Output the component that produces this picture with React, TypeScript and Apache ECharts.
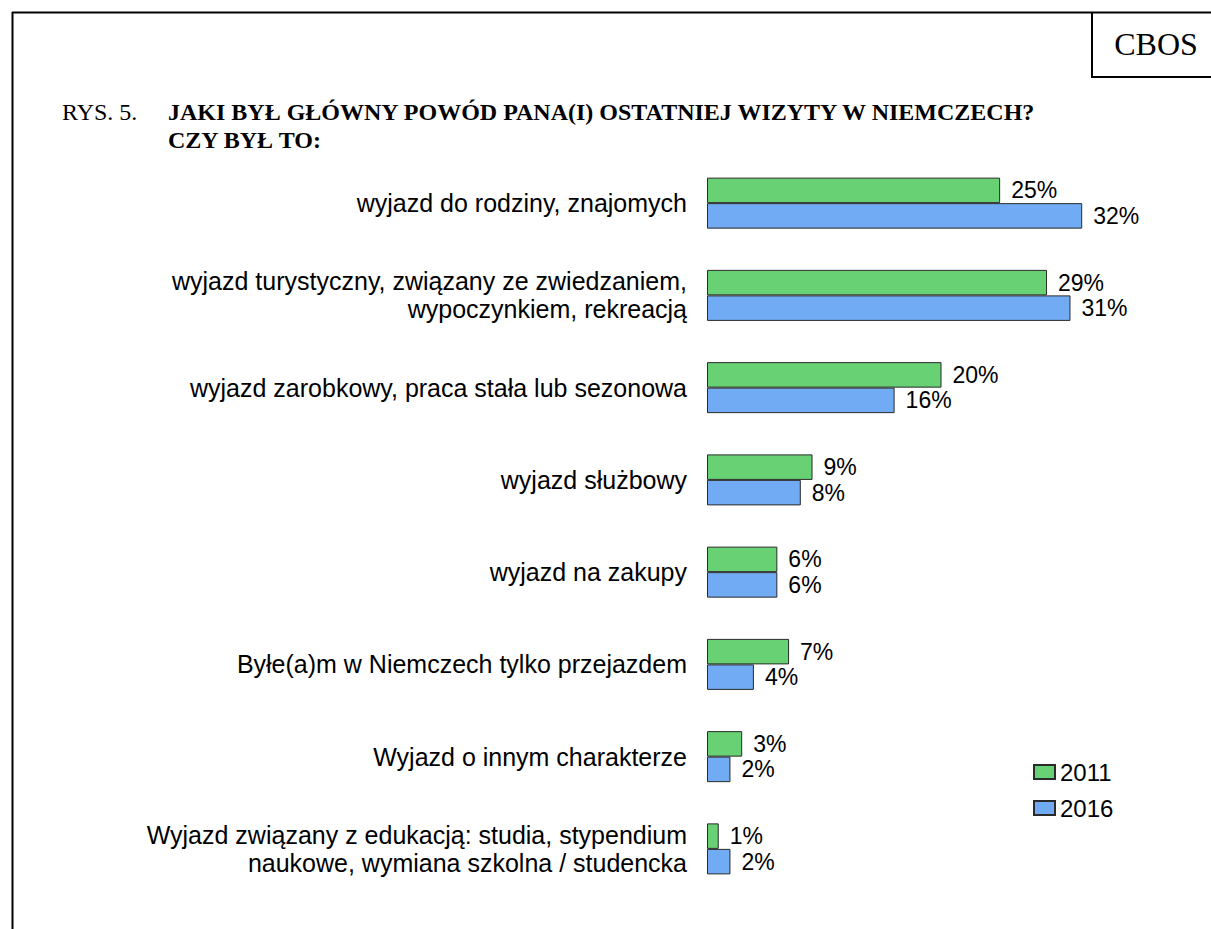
import React, { useEffect, useRef } from "react";
import * as echarts from "echarts";

const categories = [
  "wyjazd do rodziny, znajomych",
  "wyjazd turystyczny, związany ze zwiedzaniem,\nwypoczynkiem, rekreacją",
  "wyjazd zarobkowy, praca stała lub sezonowa",
  "wyjazd służbowy",
  "wyjazd na zakupy",
  "Byłe(a)m w Niemczech tylko przejazdem",
  "Wyjazd o innym charakterze",
  "Wyjazd związany z edukacją: studia, stypendium\nnaukowe, wymiana szkolna / studencka",
];
const values2011 = [25, 29, 20, 9, 6, 7, 3, 1];
const values2016 = [32, 31, 16, 8, 6, 4, 2, 2];
const seriesNames = ["2011", "2016"];

const GREEN = "#67d174";
const BLUE = "#71abf3";
const SANS = "'Liberation Sans', Arial, sans-serif";
const SERIF = "'Liberation Serif', 'Times New Roman', serif";

export default function App() {
  const ref = useRef<HTMLDivElement>(null);
  useEffect(() => {
    if (!ref.current) return;
    const chart = echarts.init(ref.current, undefined, { renderer: "svg" });
    const labelStyle = {
      show: true,
      position: "right",
      distance: 11,
      formatter: "{c}%",
      fontFamily: SANS,
      fontSize: 23,
      color: "#000",
    };
    chart.setOption({
      animation: false,
      backgroundColor: "#fff",
      textStyle: { fontFamily: SANS },
      grid: { left: 707, top: 157, width: 469, height: 738, containLabel: false },
      xAxis: {
        type: "value",
        min: 0,
        max: 40,
        show: false,
      },
      yAxis: {
        type: "category",
        data: categories,
        inverse: true,
        axisLine: { show: false },
        axisTick: { show: false },
        axisLabel: {
          fontFamily: SANS,
          fontSize: 25,
          color: "#000",
          margin: 20,
          lineHeight: 28,
          align: "right",
        },
      },
      legend: {
        orient: "vertical",
        left: 1033,
        top: 760,
        padding: 0,
        itemWidth: 21,
        itemHeight: 14,
        itemGap: 12,
        icon: "rect",
        textStyle: { fontFamily: SANS, fontSize: 24, color: "#000" },
        data: seriesNames,
      },
      series: [
        {
          name: seriesNames[0],
          type: "bar",
          data: values2011,
          barWidth: 25.5,
          barGap: "0%",
          itemStyle: { color: GREEN, borderColor: "#2a2a2a", borderWidth: 1 },
          label: labelStyle,
        },
        {
          name: seriesNames[1],
          type: "bar",
          data: values2016,
          barWidth: 25.5,
          barGap: "0%",
          itemStyle: { color: BLUE, borderColor: "#2a2a2a", borderWidth: 1 },
          label: labelStyle,
        },
      ],
      graphic: [
        { type: "line", shape: { x1: 12, y1: 12.5, x2: 1211, y2: 12.5 }, style: { stroke: "#000", lineWidth: 2 } },
        { type: "line", shape: { x1: 12.5, y1: 12, x2: 12.5, y2: 929 }, style: { stroke: "#000", lineWidth: 2 } },
        { type: "line", shape: { x1: 1092, y1: 12, x2: 1092, y2: 77 }, style: { stroke: "#000", lineWidth: 2 } },
        { type: "line", shape: { x1: 1091, y1: 77, x2: 1211, y2: 77 }, style: { stroke: "#000", lineWidth: 2 } },
        {
          type: "text",
          x: 1156,
          y: 44,
          style: { text: "CBOS", fontFamily: SERIF, fontSize: 32, fill: "#000", align: "center", verticalAlign: "middle" },
        },
        {
          type: "text",
          x: 62,
          y: 112,
          style: { text: "RYS. 5.", fontFamily: SERIF, fontSize: 24, fill: "#000", align: "left", verticalAlign: "middle" },
        },
        {
          type: "text",
          x: 168,
          y: 112,
          style: {
            text: "JAKI BYŁ GŁÓWNY POWÓD PANA(I) OSTATNIEJ WIZYTY W NIEMCZECH?",
            fontFamily: SERIF,
            fontWeight: "bold",
            fontSize: 24,
            fill: "#000",
            align: "left",
            verticalAlign: "middle",
          },
        },
        {
          type: "text",
          x: 168,
          y: 140,
          style: {
            text: "CZY BYŁ TO:",
            fontFamily: SERIF,
            fontWeight: "bold",
            fontSize: 24,
            fill: "#000",
            align: "left",
            verticalAlign: "middle",
          },
        },
      ],
    });
    return () => chart.dispose();
  }, []);
  return (
    <div
      ref={ref}
      style={{ position: "fixed", left: 0, top: 0, width: 1211, height: 929, background: "#fff" }}
    />
  );
}
